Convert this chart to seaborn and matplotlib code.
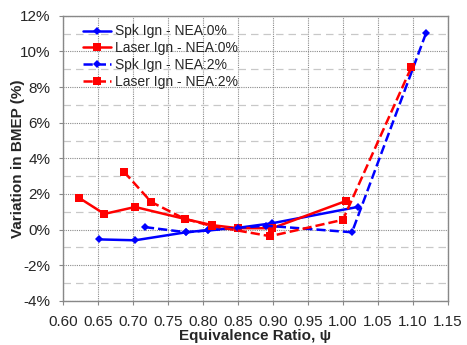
import matplotlib
matplotlib.use("Agg")
import matplotlib.pyplot as plt
import seaborn as sns
import pandas as pd
from matplotlib.ticker import MultipleLocator, FuncFormatter

# Data (equivalence ratio, variation in BMEP %)
spk0_x = [0.651, 0.703, 0.776, 0.807, 0.85, 0.898, 1.021]
spk0_y = [-0.55, -0.6, -0.15, -0.03, 0.1, 0.35, 1.27]
laser0_x = [0.623, 0.659, 0.703, 0.774, 0.813, 0.85, 0.899, 1.004]
laser0_y = [1.78, 0.88, 1.27, 0.6, 0.25, 0.08, 0.08, 1.6]
spk2_x = [0.717, 0.776, 0.807, 0.85, 0.89, 1.013, 1.119]
spk2_y = [0.14, -0.15, -0.05, 0.1, 0.22, -0.15, 11.05]
laser2_x = [0.687, 0.726, 0.774, 0.813, 0.896, 1.000, 1.098]
laser2_y = [3.25, 1.55, 0.6, 0.2, -0.37, 0.55, 9.13]

labels = ["Spk Ign - NEA:0%", "Laser Ign - NEA:0%", "Spk Ign - NEA:2%", "Laser Ign - NEA:2%"]

sns.set_style("white")
plt.rcParams['font.family'] = ['Liberation Sans', 'DejaVu Sans']

fig = plt.figure(figsize=(4.67, 3.45), dpi=100)
ax = fig.add_axes([0.135, 0.128, 0.824, 0.826])

series = [
    (spk0_x, spk0_y, labels[0], "#0000FF", "-", "D", 4.0),
    (laser0_x, laser0_y, labels[1], "#FF0000", "-", "s", 5.5),
    (spk2_x, spk2_y, labels[2], "#0000FF", "--", "D", 4.0),
    (laser2_x, laser2_y, labels[3], "#FF0000", "--", "s", 5.5),
]
for xs, ys, lab, col, ls, mk, ms in series:
    df = pd.DataFrame({"x": xs, "y": ys})
    sns.lineplot(data=df, x="x", y="y", ax=ax, sort=False, color=col,
                 linestyle=ls, marker=mk, markersize=ms, markeredgewidth=0,
                 linewidth=1.8, label=lab, zorder=3)

ax.set_xlim(0.60, 1.15)
ax.set_ylim(-4, 12)
ax.xaxis.set_major_locator(MultipleLocator(0.05))
ax.yaxis.set_major_locator(MultipleLocator(2))
ax.yaxis.set_minor_locator(MultipleLocator(1))
ax.xaxis.set_major_formatter(FuncFormatter(lambda v, p: f"{v:.2f}"))
ax.yaxis.set_major_formatter(FuncFormatter(lambda v, p: f"{v:.0f}%"))

ax.grid(True, which="major", axis="both", color="#8a8a8a", linestyle=(0, (1, 1)), linewidth=0.8, zorder=0)
ax.grid(True, which="minor", axis="y", color="#c8c8c8", linestyle=(0, (6, 4)), linewidth=0.9, zorder=0)
ax.set_axisbelow(True)

for s in ax.spines.values():
    s.set_color("#888888")
    s.set_linewidth(1.0)

ax.tick_params(axis="both", which="major", labelsize=11, length=3, color="#888888", width=0.8, direction="out")
ax.tick_params(axis="x", which="major", pad=7)
ax.tick_params(axis="y", which="major", pad=6)
ax.tick_params(axis="y", which="minor", length=0)
ax.tick_params(bottom=True, left=True)

ax.set_xlabel("Equivalence Ratio, ψ", fontsize=11, fontweight="bold", labelpad=0)
ax.set_ylabel("Variation in BMEP (%)", fontsize=11, fontweight="bold")
ax.yaxis.set_label_coords(-0.10, 0.5)

leg = ax.legend(loc="upper left", bbox_to_anchor=(0.052, 0.97), frameon=False,
                fontsize=10, handlelength=2.0, handletextpad=0.3, labelspacing=0.2,
                borderaxespad=0.0, borderpad=0.0)

fig.savefig("out.png", dpi=100)
